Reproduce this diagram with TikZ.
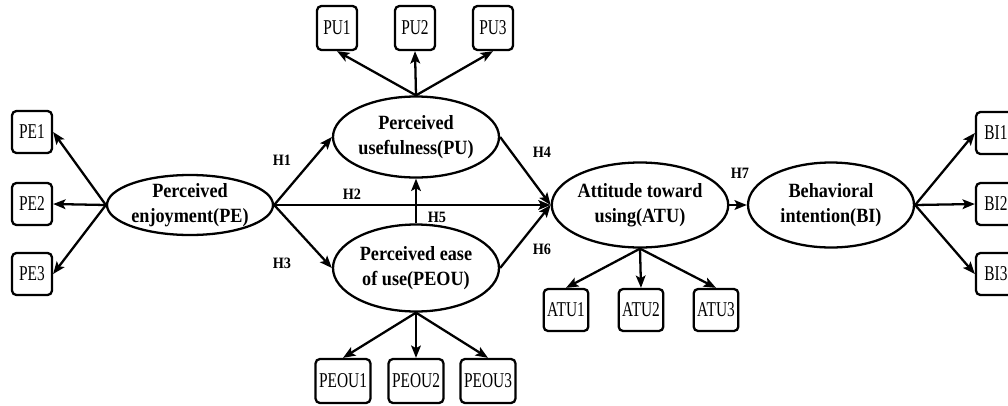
\documentclass[tikz,border=0pt]{standalone}
\usepackage{fontspec}
\setmainfont{Liberation Serif}[FakeStretch=0.73]
\newfontfamily\latentfont{Liberation Serif}[FakeStretch=0.9]
\usetikzlibrary{arrows.meta,shapes.geometric}
\tikzset{
	latent/.style={draw, ellipse, line width=1.3pt, minimum width=3.32cm, minimum height=1.7cm, inner sep=0pt, align=center, font=\latentfont\fontsize{11.5}{14.5}\selectfont\bfseries},
	indic/.style={draw, rounded corners=2.5pt, line width=1.3pt, minimum width=0.8cm, minimum height=0.84cm, inner sep=2pt, font=\fontsize{12}{14}\selectfont},
	hyp/.style={inner sep=1pt, font=\latentfont\fontsize{9}{10}\selectfont\bfseries},
	link/.style={line width=1.3pt, -{Stealth[length=7pt,width=5.5pt,inset=1.5pt]}}
}

\begin{document}
\begin{tikzpicture}
			%%%%% START %%%%%
			\clip (0, 0) rectangle (20.16, 8.1);
			
			% latent constructs
			\node[latent, minimum height=1.2cm, inner ysep=-2pt] (PE) at (3.8, 4.0) {Perceived\\enjoyment(PE)};
			\node[latent, minimum height=1.62cm] (PU) at (8.32, 5.36) {Perceived\\usefulness(PU)};
			\node[latent, minimum height=1.74cm] (PEOU) at (8.32, 2.74) {Perceived ease\\of use(PEOU)};
			\node[latent] (ATU) at (12.8, 4.0) {Attitude toward\\using(ATU)};
			\node[latent] (BI) at (16.62, 4.0) {Behavioral\\intention(BI)};
			
			% indicators
			\node[indic] (PE1) at (0.64, 5.46) {PE1};
			\node[indic] (PE2) at (0.64, 4.02) {PE2};
			\node[indic] (PE3) at (0.64, 2.62) {PE3};
			
			\node[indic, minimum height=0.88cm] (PU1) at (6.74, 7.54) {PU1};
			\node[indic, minimum height=0.88cm] (PU2) at (8.3, 7.54) {PU2};
			\node[indic, minimum height=0.88cm] (PU3) at (9.86, 7.54) {PU3};
			
			\node[indic, minimum height=0.88cm] (PEOU1) at (6.86, 0.48) {PEOU1};
			\node[indic, minimum height=0.88cm] (PEOU2) at (8.32, 0.48) {PEOU2};
			\node[indic, minimum height=0.88cm] (PEOU3) at (9.76, 0.48) {PEOU3};
			
			\node[indic] (ATU1) at (11.32, 1.9) {ATU1};
			\node[indic] (ATU2) at (12.82, 1.9) {ATU2};
			\node[indic] (ATU3) at (14.32, 1.9) {ATU3};
			
			\node[indic] (BI1) at (19.92, 5.44) {BI1};
			\node[indic] (BI2) at (19.92, 4.02) {BI2};
			\node[indic] (BI3) at (19.92, 2.62) {BI3};
			
			% measurement arrows
			\foreach \i in {1,2,3} {
				\draw[link] (PE.west) -- (PE\i.east);
				\draw[link] (PU.north) -- (PU\i.south);
				\draw[link] (PEOU.south) -- (PEOU\i.north);
				\draw[link] (ATU.south) -- (ATU\i.north);
				\draw[link] (BI.east) -- (BI\i.west);
			}
			
			% hypotheses
			\draw[link] (PE.east) -- (PU.west);
			\draw[link] (PE.east) -- (ATU.west);
			\draw[link] (PE.east) -- (PEOU.west);
			\draw[link] (PU.east) -- (ATU.west);
			\draw[link] (PEOU.north) -- (PU.south);
			\draw[link] (PEOU.east) -- (ATU.west);
			\draw[link] (ATU.east) -- (BI.west);
			
			\node[hyp] (H1) at (5.64, 4.9) {H1};
			\node[hyp] (H2) at (7.04, 4.22) {H2};
			\node[hyp] (H3) at (5.64, 2.84) {H3};
			\node[hyp] (H4) at (10.84, 5.06) {H4};
			\node[hyp] (H5) at (8.74, 3.76) {H5};
			\node[hyp] (H6) at (10.84, 3.12) {H6};
			\node[hyp] (H7) at (14.8, 4.64) {H7};
			%%%%% END %%%%%
\end{tikzpicture}
\end{document}
